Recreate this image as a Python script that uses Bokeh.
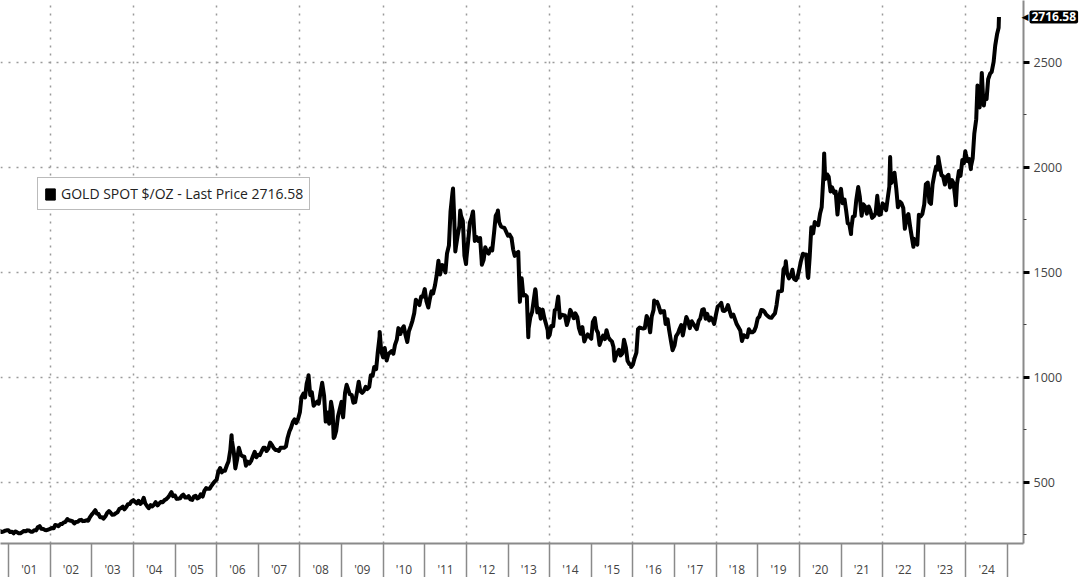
import numpy as np
import pandas as pd
from bokeh.plotting import figure
from bokeh.models import (ColumnDataSource, FixedTicker, LinearAxis, Legend, LegendItem,
                          Label, Range1d, Grid, CustomJSTickFormatter)
from bokeh.embed import file_html
from bokeh.resources import INLINE

# Gold spot $/oz, semi-monthly readings (1st and 15th of each month)
gold_2000 = [273, 270, 264, 266, 270, 272]  # Oct-Dec
gold_2001 = [272, 264, 265, 258, 267, 264, 258, 258, 264, 269, 268, 272, 271, 266, 266, 273, 272, 287, 292, 280, 279, 274, 273, 276]
gold_2002 = [279, 283, 282, 298, 296, 292, 302, 302, 310, 312, 326, 320, 318, 316, 305, 312, 313, 320, 322, 316, 317, 320, 318, 334]
gold_2003 = [347, 356, 368, 352, 350, 335, 334, 328, 339, 354, 364, 356, 346, 347, 354, 358, 375, 378, 385, 372, 384, 397, 398, 410]
gold_2004 = [416, 408, 400, 413, 398, 405, 427, 400, 387, 378, 392, 386, 395, 406, 391, 400, 408, 406, 416, 420, 429, 440, 454, 435]
gold_2005 = [438, 422, 423, 425, 436, 442, 428, 428, 435, 420, 417, 433, 437, 424, 429, 444, 433, 460, 473, 470, 470, 483, 495, 505]
gold_2006 = [513, 550, 569, 548, 556, 556, 582, 600, 654, 700, 643, 570, 614, 665, 633, 625, 623, 580, 599, 590, 604, 625, 646, 620]
gold_2007 = [632, 630, 650, 665, 665, 650, 663, 690, 679, 665, 655, 655, 650, 665, 665, 665, 672, 712, 743, 760, 789, 800, 783, 800]
gold_2008 = [834, 905, 923, 905, 971, 1000, 916, 930, 865, 875, 885, 875, 930, 975, 913, 790, 833, 780, 884, 840, 718, 745, 814, 845]
gold_2009 = [884, 810, 927, 965, 942, 920, 916, 880, 883, 925, 980, 935, 927, 935, 955, 945, 955, 1010, 1008, 1050, 1040, 1120, 1195, 1125]
gold_2010 = [1096, 1140, 1081, 1110, 1118, 1125, 1113, 1155, 1180, 1235, 1207, 1230, 1244, 1205, 1169, 1220, 1246, 1270, 1307, 1370, 1357, 1345, 1386, 1385]
gold_2011 = [1421, 1365, 1333, 1375, 1410, 1400, 1439, 1485, 1556, 1490, 1536, 1530, 1500, 1590, 1628, 1790, 1880, 1780, 1620, 1670, 1722, 1770, 1746, 1580]
gold_2012 = [1566, 1640, 1738, 1760, 1780, 1650, 1669, 1650, 1664, 1550, 1560, 1620, 1598, 1590, 1614, 1605, 1692, 1770, 1785, 1740, 1719, 1715, 1712, 1695]
gold_2013 = [1675, 1680, 1664, 1610, 1579, 1590, 1598, 1360, 1472, 1390, 1393, 1385, 1234, 1285, 1314, 1370, 1410, 1310, 1327, 1280, 1323, 1285, 1253, 1225]
gold_2014 = [1202, 1245, 1244, 1320, 1326, 1380, 1284, 1300, 1296, 1295, 1250, 1275, 1322, 1305, 1282, 1305, 1287, 1235, 1208, 1240, 1171, 1190, 1205, 1195]
gold_2015 = [1184, 1265, 1283, 1228, 1213, 1155, 1183, 1200, 1183, 1225, 1190, 1180, 1172, 1145, 1095, 1115, 1132, 1105, 1115, 1180, 1142, 1080, 1064, 1062]
gold_2016 = [1061, 1090, 1118, 1230, 1238, 1235, 1233, 1235, 1293, 1275, 1215, 1290, 1322, 1355, 1360, 1340, 1309, 1315, 1316, 1255, 1277, 1225, 1173, 1130]
gold_2017 = [1152, 1197, 1211, 1232, 1249, 1200, 1249, 1288, 1268, 1235, 1268, 1255, 1242, 1230, 1269, 1280, 1322, 1325, 1280, 1303, 1271, 1285, 1275, 1255]
gold_2018 = [1303, 1338, 1345, 1355, 1318, 1317, 1325, 1345, 1315, 1290, 1299, 1278, 1253, 1240, 1224, 1175, 1201, 1195, 1192, 1230, 1215, 1215, 1222, 1240]
gold_2019 = [1282, 1290, 1321, 1320, 1313, 1300, 1292, 1285, 1284, 1295, 1305, 1345, 1409, 1410, 1413, 1515, 1530, 1495, 1472, 1482, 1513, 1470, 1464, 1475]
gold_2020 = [1517, 1555, 1589, 1585, 1585, 1480, 1577, 1715, 1686, 1740, 1730, 1725, 1781, 1810, 1975, 1945, 1967, 1955, 1886, 1905, 1879, 1885, 1776, 1860]
gold_2021 = [1898, 1830, 1847, 1795, 1734, 1730, 1708, 1765, 1769, 1845, 1907, 1860, 1770, 1825, 1814, 1780, 1814, 1795, 1760, 1767, 1783, 1865, 1774, 1777]
gold_2022 = [1829, 1818, 1797, 1855, 1909, 1925, 1937, 1975, 1897, 1810, 1837, 1830, 1807, 1708, 1766, 1778, 1711, 1665, 1661, 1645, 1633, 1775, 1768, 1778]
gold_2023 = [1824, 1920, 1928, 1835, 1827, 1920, 1969, 2005, 1990, 2015, 1963, 1958, 1919, 1955, 1965, 1905, 1940, 1925, 1849, 1920, 1983, 1960, 2036, 2020]
gold_2024 = [2063, 2030, 2040, 2005, 2044, 2160, 2230, 2380, 2286, 2390, 2327, 2333, 2326, 2420, 2447, 2455, 2503, 2580, 2634, 2665]

# notable highs / lows between the semi-monthly readings
peak_dates = ["2006-05-12", "2006-06-14", "2008-03-17", "2008-10-24", "2009-12-02",
              "2011-09-06", "2011-09-26", "2011-11-08", "2011-12-29", "2012-02-28",
              "2012-05-16", "2012-10-04", "2013-06-28", "2013-08-28", "2013-12-19",
              "2014-03-17", "2015-07-24", "2015-12-17", "2016-07-06", "2018-08-16",
              "2019-09-04", "2020-03-19", "2020-08-06", "2021-03-30", "2022-03-08",
              "2022-09-28", "2023-05-04", "2023-10-05", "2023-12-27", "2024-02-14",
              "2024-04-12", "2024-05-20", "2024-06-07", "2024-10-18"]
peak_values = [725, 567, 1011, 712, 1217,
               1900, 1600, 1795, 1540, 1790,
               1537, 1795, 1192, 1420, 1190,
               1385, 1080, 1050, 1366, 1174,
               1553, 1474, 2067, 1683, 2050,
               1622, 2050, 1820, 2077, 1992,
               2390, 2450, 2295, 2716.58]

last_price = 2716.58
last_text = "2716.58"
series_label = "GOLD SPOT $/OZ - Last Price 2716.58"
y_ticks = [500, 1000, 1500, 2000, 2500]
y_minor = [250, 750, 1250, 1750, 2250]
years = list(range(2001, 2025))

year_lists = [("2000-10-01", gold_2000)] + [
    (f"{yr}-01-01", vals) for yr, vals in zip(range(2001, 2025), [
        gold_2001, gold_2002, gold_2003, gold_2004, gold_2005, gold_2006, gold_2007, gold_2008,
        gold_2009, gold_2010, gold_2011, gold_2012, gold_2013, gold_2014, gold_2015, gold_2016,
        gold_2017, gold_2018, gold_2019, gold_2020, gold_2021, gold_2022, gold_2023, gold_2024])]

dates = []
vals = []
for start, v in year_lists:
    dates.append(pd.date_range(start, periods=len(v), freq="SMS"))
    vals.extend(v)
dates.append(pd.DatetimeIndex(pd.to_datetime(peak_dates)))
vals.extend(peak_values)
idx = dates[0]
for d in dates[1:]:
    idx = idx.append(d)

def dec_year(ix):
    ndays = np.where(ix.is_leap_year, 366.0, 365.0)
    return ix.year.values + (ix.dayofyear.values - 1) / ndays

xs = dec_year(idx)
ys = np.array(vals, dtype=float)
order = np.argsort(xs, kind="stable")
src = ColumnDataSource(data=dict(x=xs[order], y=ys[order]))

FW, FH = 1023, 543
px_per_year = 41.625
x0 = 2001 - 8 / px_per_year
x1 = x0 + FW / px_per_year

p = figure(frame_width=FW, frame_height=FH,
           x_range=Range1d(x0, x1), y_range=Range1d(209.5, 2795),
           x_axis_type=None, y_axis_type=None,
           output_backend="svg", toolbar_location=None,
           min_border_left=0, min_border_right=57, min_border_top=0, min_border_bottom=34,
           outline_line_color=None, background_fill_color="white", border_fill_color="white")

grid_color = "#9a9a9a"
xgrid = Grid(dimension=0, ticker=FixedTicker(ticks=list(range(2002, 2025, 2))),
             grid_line_color=grid_color, grid_line_dash="2 6", grid_line_width=1.5)
ygrid = Grid(dimension=1, ticker=FixedTicker(ticks=y_ticks),
             grid_line_color=grid_color, grid_line_dash="2 6", grid_line_width=1.5)
p.add_layout(xgrid)
p.add_layout(ygrid)

p.line("x", "y", source=src, line_color="black", line_width=4, line_join="round")

xaxis = LinearAxis(
    ticker=FixedTicker(ticks=[y + 0.5 for y in years], minor_ticks=list(range(2001, 2026))),
    formatter=CustomJSTickFormatter(code="return \"'\" + String(Math.floor(tick) % 100).padStart(2, '0');"),
    major_tick_out=0, major_tick_in=0,
    minor_tick_out=34, minor_tick_in=0, minor_tick_line_color="#8a8a8a", minor_tick_line_width=1.5,
    axis_line_color="#8a8a8a", axis_line_width=2,
    major_label_text_font="Open Sans", major_label_text_font_size="12px",
    major_label_text_color="#444444", major_label_standoff=-17)
p.add_layout(xaxis, "below")

yaxis = LinearAxis(
    ticker=FixedTicker(ticks=y_ticks, minor_ticks=y_minor),
    major_tick_out=6, major_tick_in=0, major_tick_line_width=3, major_tick_line_color="black",
    minor_tick_out=3, minor_tick_in=0, minor_tick_line_color="#444444",
    axis_line_color="#8a8a8a", axis_line_width=2,
    major_label_text_font="Open Sans", major_label_text_font_size="12.5px",
    major_label_text_color="#444444", major_label_standoff=4)
p.add_layout(yaxis, "right")

# legend swatch (no visible data)
sq = p.rect(x=[np.nan], y=[np.nan], width=1, height=1, color="black")
legend = Legend(items=[LegendItem(label=series_label, renderers=[sq])],
                location=(37, 333), border_line_color="#777777", border_line_width=1.5,
                background_fill_color="white", background_fill_alpha=1.0,
                label_text_font="Open Sans", label_text_font_size="14px", label_text_color="#222222",
                padding=6, margin=0, glyph_width=12, glyph_height=14, label_standoff=5, spacing=0)
p.add_layout(legend)

# last-price tag beside the right axis (side panel, so it is not clipped to the frame)
arrow = Label(x=x0 + 1021 / px_per_year, y=last_price, text="\u25c0", text_color="black",
              text_font="DejaVu Sans", text_font_size="9px",
              text_baseline="middle", text_align="left")
last_lbl = Label(x=x0 + 1029 / px_per_year, y=last_price, text=last_text, text_color="white",
                 text_font="Open Sans", text_font_size="12px", text_font_style="bold",
                 text_baseline="middle", text_align="left",
                 background_fill_color="black", padding=2, border_radius=2)
p.add_layout(arrow, "right")
p.add_layout(last_lbl, "right")

open("out.html", "w").write(file_html(p, INLINE))
